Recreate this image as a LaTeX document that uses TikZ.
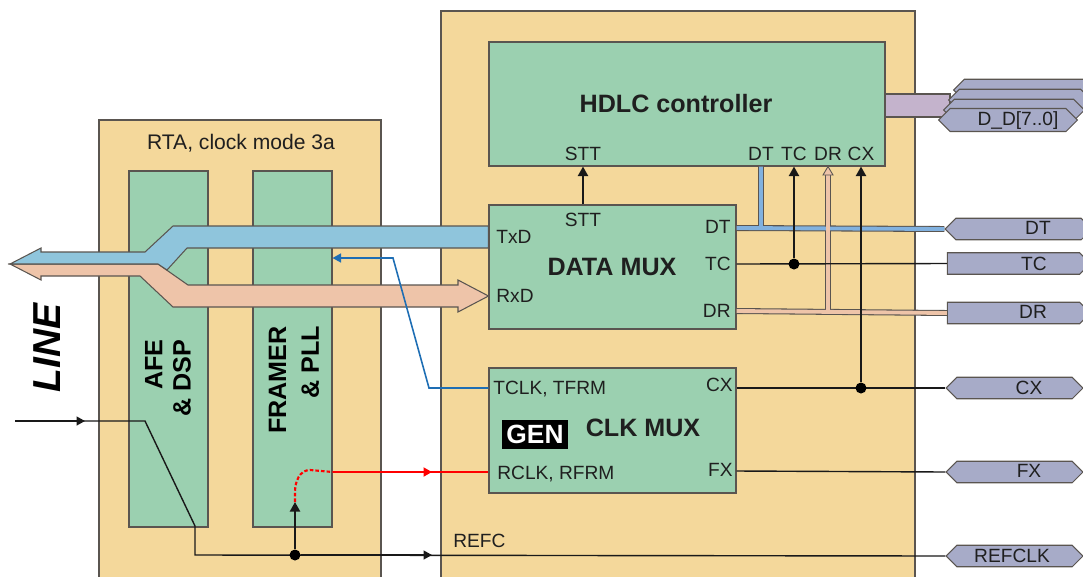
\documentclass[tikz,border=0pt]{standalone}
\usepackage{fontspec}
\setmainfont{Liberation Sans}
\usetikzlibrary{arrows.meta,positioning,shapes.symbols,fit,calc}
\definecolor{tanbg}{HTML}{F4D89B}
\definecolor{mint}{HTML}{9BD0B0}
\definecolor{edge}{HTML}{5A5550}
\definecolor{txblue}{HTML}{8FC5DC}
\definecolor{rxpink}{HTML}{EEC4A9}
\definecolor{portgray}{HTML}{A7ABC8}
\definecolor{ddbus}{HTML}{C4B3CC}
\definecolor{clkblue}{HTML}{1E6EB4}

\begin{document}
\begin{tikzpicture}[
    x=0.02cm, y=-0.02cm,
    area/.style={draw=edge, fill=tanbg, line width=0.6pt, inner sep=0pt},
    blk/.style={draw=edge, fill=mint, line width=0.6pt, inner sep=0pt},
    lbl/.style={font=\fontsize{10.9}{13}\selectfont, inner sep=0pt, text=black!88},
    title/.style={font=\fontsize{14.3}{16}\selectfont\bfseries, inner sep=0pt, text=black!88},
    port/.style={shape=signal, draw=edge, fill=portgray, line width=0.6pt, signal pointer angle=90, minimum height=0.43cm, inner sep=0pt},
    sig/.style={draw=black!90, line width=0.8pt},
    up/.style={draw=black!90, line width=1.2pt, -{Triangle[length=0.19cm,width=0.2cm]}},
    tip/.style={-{Triangle[length=0.17cm,width=0.18cm]}},
    dotn/.style={circle, fill=black, minimum size=0.22cm, inner sep=0pt}
]
\path[use as bounding box] (0,0) rectangle (1083,576);
\clip (0,0) rectangle (1083,576);

% chips and blocks
\node[area, fit={(99,120) (381,590)}] (rta) {};
\node[area, fit={(441,11) (915,590)}] (chip) {};
\node[blk, fit={(129,171) (208,527)}] (afe) {};
\node[blk, fit={(253,171) (332,527)}] (framer) {};
\node[blk, fit={(489,42) (885,166)}] (hdlc) {};
\node[blk, fit={(489,205) (736,329)}] (dmux) {};
\node[blk, fit={(489,368) (736,493)}] (cmux) {};

\node[font=\fontsize{12}{14}\selectfont, inner sep=0pt, text=black!88] (rtaT) at (241,143) {RTA, clock mode 3a};
\node[rotate=90, align=right, font=\fontsize{14.3}{16}\selectfont\bfseries] (afeT) at (168,378) {AFE\\\& DSP};
\node[rotate=90, align=right, font=\fontsize{14.3}{18.7}\selectfont\bfseries] (framerT) at (294,380) {FRAMER\\\& PLL};
\node[rotate=90, font=\fontsize{22.2}{26}\selectfont\bfseries\itshape] (lineT) at (47,348) {LINE};

\node[title] (hdlcT) at (676,104) {HDLC controller};
\node[lbl] (hSTT) at (583,154) {STT};
\node[lbl] (hDT) at (761,154) {DT};
\node[lbl] (hTC) at (794,154) {TC};
\node[lbl] (hDR) at (828,154) {DR};
\node[lbl] (hCX) at (861,154) {CX};

\node[title] (dmuxT) at (612,267) {DATA MUX};
\node[lbl] (dSTT) at (583,220) {STT};
\node[lbl, anchor=west] (dTxD) at (496,237) {TxD};
\node[lbl, anchor=west] (dRxD) at (496,296) {RxD};
\node[lbl, anchor=east] (dDT) at (731,227) {DT};
\node[lbl, anchor=east] (dTC) at (731,264) {TC};
\node[lbl, anchor=east] (dDR) at (731,311) {DR};

\node[title] (cmuxT) at (643,428) {CLK MUX};
\node[lbl, anchor=west] (cTCLK) at (493,389) {TCLK, TFRM};
\node[lbl, anchor=west] (cRCLK) at (497,474) {RCLK, RFRM};
\node[lbl, anchor=east] (cCX) at (733,385) {CX};
\node[lbl, anchor=east] (cFX) at (733,470) {FX};
\node[fill=black, text=white, font=\fontsize{15}{17}\selectfont\bfseries, minimum width=1.32cm, minimum height=0.58cm, inner sep=0pt] (gen) at (535,434.5) {GEN};

% line buses
\draw[draw=edge, fill=rxpink, line width=0.6pt] (dmux.west |- 0,296) -- (458,280) -- (458,285) -- (188,285) -- (158,264) -- (10,264) -- (41,280) -- (41,276) -- (140,276) -- (173,307) -- (458,307) -- (458,312) -- cycle;
\draw[draw=edge, fill=txblue, line width=0.6pt] (dmux.west |- 0,226) -- (173,226) -- (145,252) -- (41,252) -- (41,248) -- (10,264) -- (158,264) -- (167,270) -- (187,248) -- (dmux.west |- 0,248) -- cycle;

% ports
\draw[draw=edge, fill=ddbus, line width=0.6pt] (hdlc.east |- 0,94) rectangle (950,117);
\node[port, signal to=west and east, minimum width=2.9cm] (pDD3) at (1026,90) {};
\node[port, signal to=west and east, minimum width=2.86cm] (pDD2) at (1020,100) {};
\node[port, signal to=west and east, minimum width=2.82cm] (pDD1) at (1014,110) {};
\node[port, signal to=west and east, minimum width=2.78cm, minimum height=0.46cm] (pDD) at (1008,120) {};
\node[lbl] (tDD) at (1018,121) {D\_D[7..0]};
\node[port, signal to=west and east, minimum width=2.94cm] (pDT) at (1018.5,229) {};
\node[lbl] (tDT) at (1038,228) {DT};
\node[port, signal to=east, minimum width=2.86cm] (pTC) at (1013.5,263.5) {};
\node[lbl] (tTC) at (1034,264) {TC};
\node[port, signal to=east, minimum width=2.86cm] (pDR) at (1013.5,313) {};
\node[lbl] (tDR) at (1033,312) {DR};
\node[port, signal to=west and east, minimum width=2.74cm] (pCX) at (1014.5,388) {};
\node[lbl] (tCX) at (1029,388) {CX};
\node[port, signal to=west and east, minimum width=2.74cm] (pFX) at (1014.5,472) {};
\node[lbl] (tFX) at (1029,471) {FX};
\node[port, signal to=west and east, minimum width=2.74cm] (pREF) at (1014.5,556) {};
\node[lbl] (tREF) at (1012,556) {REFCLK};

% DT and DR buses
\draw[edge, line width=3.4pt] (dmux.east |- 0,228) -- (pDT.west) (761,228) -- (761,0 |- hdlc.south);
\draw[edge, line width=3.4pt] (dmux.east |- 0,311) -- (pDR.west) (828,311) -- (828,173);
\draw[txblue!90!blue, line width=2.2pt] (dmux.east |- 0,228) -- (pDT.west) (761,228) -- (761,0 |- hdlc.south);
\draw[rxpink, line width=2.2pt] (dmux.east |- 0,311) -- (pDR.west) (828,311) -- (828,172);
\draw[draw=edge, fill=rxpink, line width=0.5pt] (823,175) -- (828,0 |- hdlc.south) -- (833,175) -- cycle;

% control lines
\draw[up] (583,0 |- dmux.north) -- (583,0 |- hdlc.south);
\draw[sig] (dmux.east |- 0,264) -- (pTC.west);
\node[dotn] (jTC) at (794,264) {};
\draw[up] (jTC) -- (794,0 |- hdlc.south);
\draw[sig] (cmux.east |- 0,388) -- (pCX.west);
\node[dotn] (jCX) at (861,388) {};
\draw[up] (jCX) -- (861,0 |- hdlc.south);
\draw[sig] (cmux.east |- 0,471) -- (pFX.west);

% clocks
\draw[clkblue, line width=0.9pt, tip] (cmux.west |- 0,388) -- (429,388) -- (393,258) -- (framer.east |- 0,258);
\draw[red, line width=1.1pt] (framer.east |- 0,472) -- (cmux.west |- 0,472);
\draw[red, line width=1.1pt, tip] (framer.east |- 0,472) -- (432,472);
\draw[red, line width=1.2pt, dash pattern=on 2pt off 1.2pt] (295,502) -- (295,492) to[out=90,in=180] (310,470) -- (framer.east |- 0,472);

\coordinate (lineIn) at (15,421);
\draw[sig] (lineIn) -- (145,421) -- (195,526) -- (195,555) -- (pREF.west);
\draw[sig, tip] (lineIn) -- (85,421);
\node[dotn] (jREF) at (295,555) {};
\draw[sig, tip] (jREF) -- (432,555);
\draw[up] (jREF) -- (295,502);
\node[lbl, anchor=west] (refT) at (453,541) {REFC};
\end{tikzpicture}
\end{document}
